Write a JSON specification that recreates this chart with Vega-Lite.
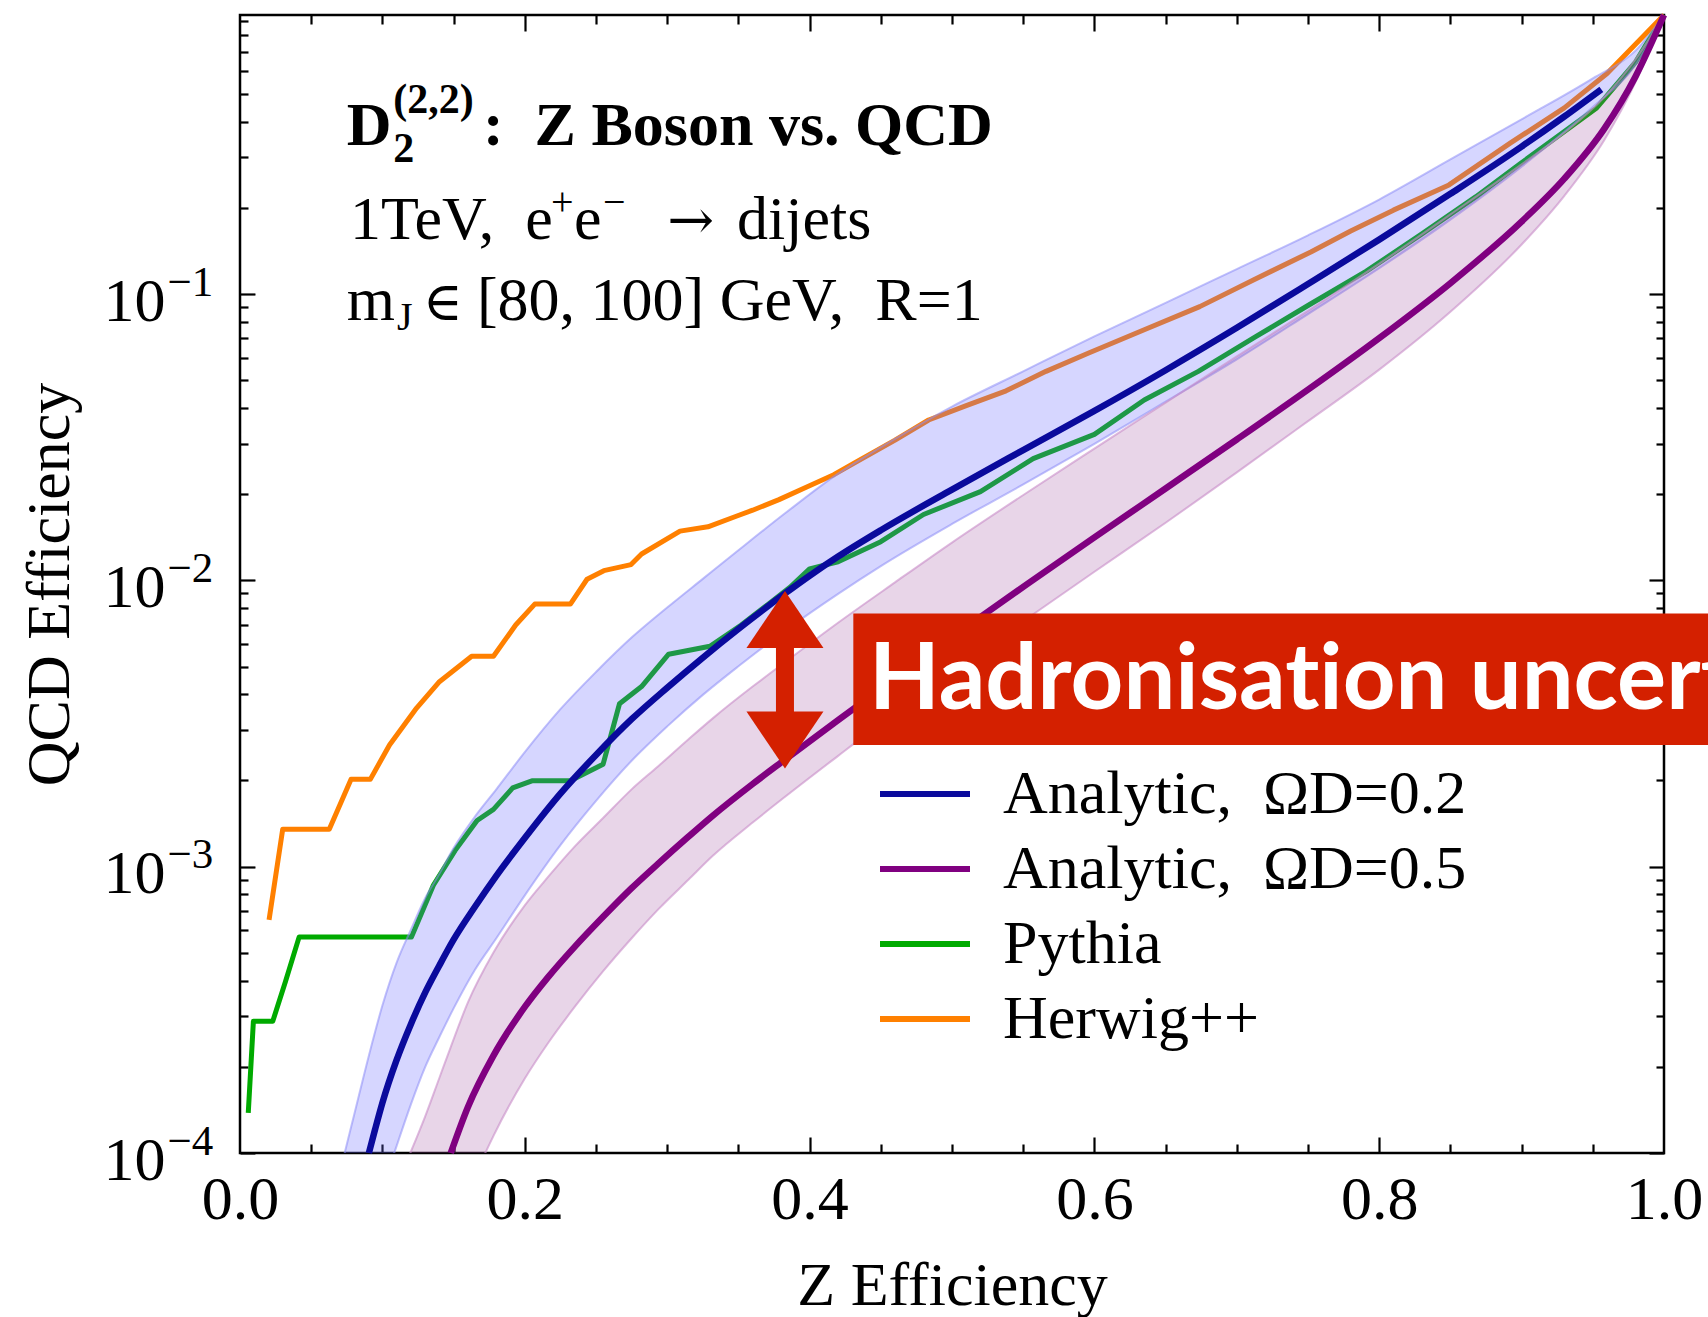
{
  "$schema": "https://vega.github.io/schema/vega-lite/v6.json",
  "width": 1424,
  "height": 1138,
  "autosize": "none",
  "padding": {"left": 240, "top": 15, "right": 44, "bottom": 164},
  "background": "white",
  "config": {
    "font": "Liberation Serif",
    "view": {"stroke": "black", "strokeWidth": 2.5},
    "axis": {
      "domain": false, "grid": false, "labelFlush": false, "labelOverlap": false,
      "tickColor": "black", "tickWidth": 2.2, "labelColor": "black",
      "labelFont": "Liberation Serif", "labelFontSize": 62,
      "titleFont": "Liberation Serif", "titleFontSize": 62, "titleFontWeight": "normal", "titleColor": "black"
    },
    "legend": {
      "labelFont": "Liberation Serif", "labelFontSize": 62, "labelColor": "black", "labelLimit": 1000,
      "symbolType": "M-1.5,0L1.5,0", "symbolSize": 3600, "symbolStrokeWidth": 6,
      "labelOffset": 45, "rowPadding": 11, "padding": 0
    }
  },
  "datasets": {
    "curves": [
      {"s": "Analytic,\u00a0 ΩD=0.2", "x": 0.0905, "y": 0.0001},
      {"s": "Analytic,\u00a0 ΩD=0.2", "x": 0.095, "y": 0.0001216},
      {"s": "Analytic,\u00a0 ΩD=0.2", "x": 0.10, "y": 0.0001496},
      {"s": "Analytic,\u00a0 ΩD=0.2", "x": 0.11, "y": 0.0002113},
      {"s": "Analytic,\u00a0 ΩD=0.2", "x": 0.12, "y": 0.0002818},
      {"s": "Analytic,\u00a0 ΩD=0.2", "x": 0.13, "y": 0.0003631},
      {"s": "Analytic,\u00a0 ΩD=0.2", "x": 0.14, "y": 0.0004519},
      {"s": "Analytic,\u00a0 ΩD=0.2", "x": 0.15, "y": 0.0005559},
      {"s": "Analytic,\u00a0 ΩD=0.2", "x": 0.165, "y": 0.0007244},
      {"s": "Analytic,\u00a0 ΩD=0.2", "x": 0.18, "y": 0.000929},
      {"s": "Analytic,\u00a0 ΩD=0.2", "x": 0.20, "y": 0.001259},
      {"s": "Analytic,\u00a0 ΩD=0.2", "x": 0.225, "y": 0.001799},
      {"s": "Analytic,\u00a0 ΩD=0.2", "x": 0.25, "y": 0.002455},
      {"s": "Analytic,\u00a0 ΩD=0.2", "x": 0.275, "y": 0.003273},
      {"s": "Analytic,\u00a0 ΩD=0.2", "x": 0.30, "y": 0.004217},
      {"s": "Analytic,\u00a0 ΩD=0.2", "x": 0.325, "y": 0.00537},
      {"s": "Analytic,\u00a0 ΩD=0.2", "x": 0.35, "y": 0.006761},
      {"s": "Analytic,\u00a0 ΩD=0.2", "x": 0.383, "y": 0.009016},
      {"s": "Analytic,\u00a0 ΩD=0.2", "x": 0.40, "y": 0.010375},
      {"s": "Analytic,\u00a0 ΩD=0.2", "x": 0.42, "y": 0.012106},
      {"s": "Analytic,\u00a0 ΩD=0.2", "x": 0.45, "y": 0.014962},
      {"s": "Analytic,\u00a0 ΩD=0.2", "x": 0.50, "y": 0.020749},
      {"s": "Analytic,\u00a0 ΩD=0.2", "x": 0.55, "y": 0.02851},
      {"s": "Analytic,\u00a0 ΩD=0.2", "x": 0.60, "y": 0.03908},
      {"s": "Analytic,\u00a0 ΩD=0.2", "x": 0.65, "y": 0.0542},
      {"s": "Analytic,\u00a0 ΩD=0.2", "x": 0.70, "y": 0.07621},
      {"s": "Analytic,\u00a0 ΩD=0.2", "x": 0.75, "y": 0.10839},
      {"s": "Analytic,\u00a0 ΩD=0.2", "x": 0.80, "y": 0.15488},
      {"s": "Analytic,\u00a0 ΩD=0.2", "x": 0.85, "y": 0.22387},
      {"s": "Analytic,\u00a0 ΩD=0.2", "x": 0.90, "y": 0.32734},
      {"s": "Analytic,\u00a0 ΩD=0.2", "x": 0.93, "y": 0.41687},
      {"s": "Analytic,\u00a0 ΩD=0.2", "x": 0.956, "y": 0.5188},

      {"s": "Analytic,\u00a0 ΩD=0.5", "x": 0.148, "y": 0.0001},
      {"s": "Analytic,\u00a0 ΩD=0.5", "x": 0.16, "y": 0.0001445},
      {"s": "Analytic,\u00a0 ΩD=0.5", "x": 0.178, "y": 0.0002188},
      {"s": "Analytic,\u00a0 ΩD=0.5", "x": 0.20, "y": 0.0003236},
      {"s": "Analytic,\u00a0 ΩD=0.5", "x": 0.2165, "y": 0.0004121},
      {"s": "Analytic,\u00a0 ΩD=0.5", "x": 0.235, "y": 0.0005248},
      {"s": "Analytic,\u00a0 ΩD=0.5", "x": 0.255, "y": 0.0006683},
      {"s": "Analytic,\u00a0 ΩD=0.5", "x": 0.275, "y": 0.0008414},
      {"s": "Analytic,\u00a0 ΩD=0.5", "x": 0.2935, "y": 0.001023},
      {"s": "Analytic,\u00a0 ΩD=0.5", "x": 0.315, "y": 0.001274},
      {"s": "Analytic,\u00a0 ΩD=0.5", "x": 0.332, "y": 0.001507},
      {"s": "Analytic,\u00a0 ΩD=0.5", "x": 0.36, "y": 0.001945},
      {"s": "Analytic,\u00a0 ΩD=0.5", "x": 0.383, "y": 0.002371},
      {"s": "Analytic,\u00a0 ΩD=0.5", "x": 0.42, "y": 0.003251},
      {"s": "Analytic,\u00a0 ΩD=0.5", "x": 0.46, "y": 0.00455},
      {"s": "Analytic,\u00a0 ΩD=0.5", "x": 0.50, "y": 0.006339},
      {"s": "Analytic,\u00a0 ΩD=0.5", "x": 0.5525, "y": 0.009683},
      {"s": "Analytic,\u00a0 ΩD=0.5", "x": 0.60, "y": 0.014125},
      {"s": "Analytic,\u00a0 ΩD=0.5", "x": 0.65, "y": 0.02094},
      {"s": "Analytic,\u00a0 ΩD=0.5", "x": 0.70, "y": 0.03105},
      {"s": "Analytic,\u00a0 ΩD=0.5", "x": 0.75, "y": 0.04634},
      {"s": "Analytic,\u00a0 ΩD=0.5", "x": 0.80, "y": 0.07015},
      {"s": "Analytic,\u00a0 ΩD=0.5", "x": 0.85, "y": 0.10914},
      {"s": "Analytic,\u00a0 ΩD=0.5", "x": 0.90, "y": 0.17906},
      {"s": "Analytic,\u00a0 ΩD=0.5", "x": 0.93, "y": 0.25293},
      {"s": "Analytic,\u00a0 ΩD=0.5", "x": 0.958, "y": 0.37757},
      {"s": "Analytic,\u00a0 ΩD=0.5", "x": 0.98, "y": 0.57544},
      {"s": "Analytic,\u00a0 ΩD=0.5", "x": 1.0, "y": 0.943},

      {"s": "Pythia", "x": 0.0058, "y": 0.000138},
      {"s": "Pythia", "x": 0.0094, "y": 0.0002884},
      {"s": "Pythia", "x": 0.023, "y": 0.0002884},
      {"s": "Pythia", "x": 0.032, "y": 0.0003981},
      {"s": "Pythia", "x": 0.0415, "y": 0.0005675},
      {"s": "Pythia", "x": 0.1204, "y": 0.0005675},
      {"s": "Pythia", "x": 0.1358, "y": 0.000861},
      {"s": "Pythia", "x": 0.151, "y": 0.001138},
      {"s": "Pythia", "x": 0.1665, "y": 0.001449},
      {"s": "Pythia", "x": 0.178, "y": 0.001585},
      {"s": "Pythia", "x": 0.1915, "y": 0.001884},
      {"s": "Pythia", "x": 0.205, "y": 0.001995},
      {"s": "Pythia", "x": 0.232, "y": 0.001995},
      {"s": "Pythia", "x": 0.255, "y": 0.00228},
      {"s": "Pythia", "x": 0.2665, "y": 0.003707},
      {"s": "Pythia", "x": 0.282, "y": 0.004256},
      {"s": "Pythia", "x": 0.301, "y": 0.005521},
      {"s": "Pythia", "x": 0.33, "y": 0.005888},
      {"s": "Pythia", "x": 0.352, "y": 0.006982},
      {"s": "Pythia", "x": 0.371, "y": 0.00826},
      {"s": "Pythia", "x": 0.386, "y": 0.009441},
      {"s": "Pythia", "x": 0.40, "y": 0.010965},
      {"s": "Pythia", "x": 0.42, "y": 0.01161},
      {"s": "Pythia", "x": 0.45, "y": 0.01365},
      {"s": "Pythia", "x": 0.48, "y": 0.01698},
      {"s": "Pythia", "x": 0.52, "y": 0.02042},
      {"s": "Pythia", "x": 0.557, "y": 0.02661},
      {"s": "Pythia", "x": 0.60, "y": 0.03236},
      {"s": "Pythia", "x": 0.635, "y": 0.04266},
      {"s": "Pythia", "x": 0.673, "y": 0.0537},
      {"s": "Pythia", "x": 0.713, "y": 0.07079},
      {"s": "Pythia", "x": 0.75, "y": 0.0912},
      {"s": "Pythia", "x": 0.791, "y": 0.12023},
      {"s": "Pythia", "x": 0.83, "y": 0.16218},
      {"s": "Pythia", "x": 0.868, "y": 0.21878},
      {"s": "Pythia", "x": 0.899, "y": 0.2851},
      {"s": "Pythia", "x": 0.9527, "y": 0.44668},
      {"s": "Pythia", "x": 0.98, "y": 0.64565},
      {"s": "Pythia", "x": 1.0, "y": 0.943},

      {"s": "Herwig++", "x": 0.0204, "y": 0.0006516},
      {"s": "Herwig++", "x": 0.030, "y": 0.001352},
      {"s": "Herwig++", "x": 0.0627, "y": 0.001352},
      {"s": "Herwig++", "x": 0.078, "y": 0.002018},
      {"s": "Herwig++", "x": 0.0915, "y": 0.002018},
      {"s": "Herwig++", "x": 0.105, "y": 0.002661},
      {"s": "Herwig++", "x": 0.124, "y": 0.003581},
      {"s": "Herwig++", "x": 0.1396, "y": 0.004406},
      {"s": "Herwig++", "x": 0.1627, "y": 0.005433},
      {"s": "Herwig++", "x": 0.178, "y": 0.005433},
      {"s": "Herwig++", "x": 0.1936, "y": 0.006982},
      {"s": "Herwig++", "x": 0.207, "y": 0.00826},
      {"s": "Herwig++", "x": 0.232, "y": 0.00826},
      {"s": "Herwig++", "x": 0.2437, "y": 0.01009},
      {"s": "Herwig++", "x": 0.2555, "y": 0.01081},
      {"s": "Herwig++", "x": 0.2746, "y": 0.01135},
      {"s": "Herwig++", "x": 0.282, "y": 0.01236},
      {"s": "Herwig++", "x": 0.309, "y": 0.01486},
      {"s": "Herwig++", "x": 0.3286, "y": 0.01538},
      {"s": "Herwig++", "x": 0.348, "y": 0.01671},
      {"s": "Herwig++", "x": 0.36, "y": 0.01758},
      {"s": "Herwig++", "x": 0.3785, "y": 0.01914},
      {"s": "Herwig++", "x": 0.3976, "y": 0.02113},
      {"s": "Herwig++", "x": 0.417, "y": 0.02339},
      {"s": "Herwig++", "x": 0.4325, "y": 0.02588},
      {"s": "Herwig++", "x": 0.46, "y": 0.0309},
      {"s": "Herwig++", "x": 0.4836, "y": 0.03631},
      {"s": "Herwig++", "x": 0.51, "y": 0.04074},
      {"s": "Herwig++", "x": 0.538, "y": 0.04592},
      {"s": "Herwig++", "x": 0.566, "y": 0.0537},
      {"s": "Herwig++", "x": 0.596, "y": 0.06223},
      {"s": "Herwig++", "x": 0.635, "y": 0.07499},
      {"s": "Herwig++", "x": 0.674, "y": 0.09036},
      {"s": "Herwig++", "x": 0.712, "y": 0.1122},
      {"s": "Herwig++", "x": 0.752, "y": 0.14028},
      {"s": "Herwig++", "x": 0.78, "y": 0.16596},
      {"s": "Herwig++", "x": 0.81, "y": 0.19634},
      {"s": "Herwig++", "x": 0.849, "y": 0.24044},
      {"s": "Herwig++", "x": 0.892, "y": 0.33651},
      {"s": "Herwig++", "x": 0.93, "y": 0.44668},
      {"s": "Herwig++", "x": 0.96, "y": 0.58884},
      {"s": "Herwig++", "x": 1.0, "y": 0.943}
    ],
    "bands": [
      {"b": "0.2", "x": 0.0735, "hi": 0.0001, "lo": 0.0000229},
      {"b": "0.2", "x": 0.08, "hi": 0.0001349, "lo": 0.0000309},
      {"b": "0.2", "x": 0.0905, "hi": 0.0002188, "lo": 0.0000501},
      {"b": "0.2", "x": 0.10, "hi": 0.0003273, "lo": 0.000075},
      {"b": "0.2", "x": 0.11, "hi": 0.0004624, "lo": 0.0001059},
      {"b": "0.2", "x": 0.12, "hi": 0.0006026, "lo": 0.0001479},
      {"b": "0.2", "x": 0.13, "hi": 0.0007762, "lo": 0.0001995},
      {"b": "0.2", "x": 0.14, "hi": 0.0009441, "lo": 0.0002541},
      {"b": "0.2", "x": 0.15, "hi": 0.001161, "lo": 0.0003199},
      {"b": "0.2", "x": 0.165, "hi": 0.001496, "lo": 0.0004365},
      {"b": "0.2", "x": 0.18, "hi": 0.001862, "lo": 0.0005623},
      {"b": "0.2", "x": 0.20, "hi": 0.002512, "lo": 0.0007943},
      {"b": "0.2", "x": 0.225, "hi": 0.003548, "lo": 0.001189},
      {"b": "0.2", "x": 0.25, "hi": 0.004786, "lo": 0.001698},
      {"b": "0.2", "x": 0.275, "hi": 0.00631, "lo": 0.002344},
      {"b": "0.2", "x": 0.30, "hi": 0.008035, "lo": 0.00309},
      {"b": "0.2", "x": 0.325, "hi": 0.01012, "lo": 0.003981},
      {"b": "0.2", "x": 0.35, "hi": 0.01274, "lo": 0.005012},
      {"b": "0.2", "x": 0.383, "hi": 0.01718, "lo": 0.006683},
      {"b": "0.2", "x": 0.42, "hi": 0.0236, "lo": 0.008974},
      {"b": "0.2", "x": 0.45, "hi": 0.02917, "lo": 0.01122},
      {"b": "0.2", "x": 0.50, "hi": 0.04046, "lo": 0.01574},
      {"b": "0.2", "x": 0.55, "hi": 0.0537, "lo": 0.02163},
      {"b": "0.2", "x": 0.60, "hi": 0.07112, "lo": 0.02999},
      {"b": "0.2", "x": 0.65, "hi": 0.09311, "lo": 0.04207},
      {"b": "0.2", "x": 0.70, "hi": 0.12218, "lo": 0.05916},
      {"b": "0.2", "x": 0.75, "hi": 0.16032, "lo": 0.08511},
      {"b": "0.2", "x": 0.80, "hi": 0.2138, "lo": 0.12303},
      {"b": "0.2", "x": 0.85, "hi": 0.29512, "lo": 0.18197},
      {"b": "0.2", "x": 0.90, "hi": 0.40738, "lo": 0.27861},
      {"b": "0.2", "x": 0.95, "hi": 0.56624, "lo": 0.44978},
      {"b": "0.2", "x": 0.98, "hi": 0.70795, "lo": 0.63096},
      {"b": "0.2", "x": 1.0, "hi": 0.943, "lo": 0.943},

      {"b": "0.5", "x": 0.1196, "hi": 0.0001, "lo": 0.00002},
      {"b": "0.5", "x": 0.13, "hi": 0.000134, "lo": 0.00003},
      {"b": "0.5", "x": 0.14, "hi": 0.0001828, "lo": 0.00004},
      {"b": "0.5", "x": 0.148, "hi": 0.0002344, "lo": 0.0000501},
      {"b": "0.5", "x": 0.16, "hi": 0.000335, "lo": 0.00007244},
      {"b": "0.5", "x": 0.178, "hi": 0.0005012, "lo": 0.0001148},
      {"b": "0.5", "x": 0.20, "hi": 0.0007328, "lo": 0.000182},
      {"b": "0.5", "x": 0.2165, "hi": 0.0009226, "lo": 0.0002427},
      {"b": "0.5", "x": 0.235, "hi": 0.001175, "lo": 0.0003236},
      {"b": "0.5", "x": 0.255, "hi": 0.001479, "lo": 0.0004315},
      {"b": "0.5", "x": 0.275, "hi": 0.001862, "lo": 0.0005623},
      {"b": "0.5", "x": 0.2935, "hi": 0.002239, "lo": 0.0007079},
      {"b": "0.5", "x": 0.315, "hi": 0.002786, "lo": 0.0009016},
      {"b": "0.5", "x": 0.332, "hi": 0.003296, "lo": 0.001091},
      {"b": "0.5", "x": 0.36, "hi": 0.004256, "lo": 0.001426},
      {"b": "0.5", "x": 0.383, "hi": 0.005188, "lo": 0.001758},
      {"b": "0.5", "x": 0.42, "hi": 0.007112, "lo": 0.002438},
      {"b": "0.5", "x": 0.46, "hi": 0.00984, "lo": 0.003451},
      {"b": "0.5", "x": 0.50, "hi": 0.013552, "lo": 0.004808},
      {"b": "0.5", "x": 0.5525, "hi": 0.02023, "lo": 0.007345},
      {"b": "0.5", "x": 0.60, "hi": 0.02884, "lo": 0.010715},
      {"b": "0.5", "x": 0.65, "hi": 0.04178, "lo": 0.015888},
      {"b": "0.5", "x": 0.70, "hi": 0.06053, "lo": 0.02382},
      {"b": "0.5", "x": 0.75, "hi": 0.0873, "lo": 0.03597},
      {"b": "0.5", "x": 0.80, "hi": 0.12764, "lo": 0.05445},
      {"b": "0.5", "x": 0.85, "hi": 0.18967, "lo": 0.0867},
      {"b": "0.5", "x": 0.90, "hi": 0.28379, "lo": 0.14894},
      {"b": "0.5", "x": 0.93, "hi": 0.36559, "lo": 0.22029},
      {"b": "0.5", "x": 0.958, "hi": 0.48641, "lo": 0.34435},
      {"b": "0.5", "x": 0.98, "hi": 0.66069, "lo": 0.54954},
      {"b": "0.5", "x": 1.0, "hi": 0.943, "lo": 0.943}
    ]
  },
  "resolve": {"axis": {"x": "independent", "y": "independent"}},
  "layer": [
    {
      "data": {"name": "curves"},
      "transform": [{"filter": "datum.s === 'Pythia' || datum.s === 'Herwig++'"}],
      "mark": {"type": "line", "strokeWidth": 5, "strokeJoin": "round"},
      "encoding": {
        "x": {"field": "x", "type": "quantitative", "scale": {"domain": [0, 1], "nice": false, "zero": false},
          "axis": {"orient": "bottom", "values": [0, 0.2, 0.4, 0.6, 0.8, 1], "format": ".1f", "ticks": false,
            "labelBaseline": "alphabetic", "labelAlign": "center", "labelPadding": 65,
            "title": "Z Efficiency", "titleX": 712, "titleY": 151, "titleAlign": "center", "titleBaseline": "alphabetic", "titleAngle": 0}},
        "y": {"field": "y", "type": "quantitative", "scale": {"type": "log", "domain": [0.0001, 0.943], "nice": false},
          "axis": {"orient": "left", "values": [0.0001, 0.001, 0.01, 0.1], "labelExpr": "'10'", "ticks": false,
            "labelPadding": 75, "labelAlign": "right", "labelBaseline": "alphabetic", "labelOffset": 26,
            "title": "QCD Efficiency", "titleX": -172, "titleY": 569, "titleAngle": -90, "titleAlign": "center", "titleBaseline": "alphabetic"}},
        "color": {"field": "s", "type": "nominal",
          "scale": {"domain": ["Analytic,\u00a0 ΩD=0.2", "Analytic,\u00a0 ΩD=0.5", "Pythia", "Herwig++"], "range": ["#0a0a9c", "#800080", "#00aa00", "#ff8000"]},
          "legend": {"title": null, "orient": "none", "legendX": 652, "legendY": 746}}
      }
    },
    {
      "data": {"name": "bands"},
      "transform": [{"filter": "datum.b === '0.2'"}],
      "mark": {"type": "area", "clip": true, "interpolate": "monotone", "fill": "#6b6bff", "fillOpacity": 0.28, "stroke": "#8c8cf5", "strokeOpacity": 0.55, "strokeWidth": 2},
      "encoding": {
        "x": {"field": "x", "type": "quantitative", "scale": {"domain": [0, 1], "nice": false, "zero": false},
          "axis": {"orient": "bottom", "values": [0.2, 0.4, 0.6, 0.8], "labels": false, "tickSize": -16, "title": null}},
        "y": {"field": "hi", "type": "quantitative", "scale": {"type": "log", "domain": [0.0001, 0.943], "nice": false},
          "axis": {"orient": "left", "values": [0.0001, 0.001, 0.01, 0.1], "labelExpr": "'−' + round(-log(datum.value)/LN10)", "ticks": false,
            "labelPadding": 73, "labelAlign": "left", "labelBaseline": "alphabetic", "labelOffset": 1, "labelFontSize": 43, "title": null}},
        "y2": {"field": "lo"}
      }
    },
    {
      "data": {"name": "bands"},
      "transform": [{"filter": "datum.b === '0.5'"}],
      "mark": {"type": "area", "clip": true, "interpolate": "monotone", "fill": "#a050a0", "fillOpacity": 0.24, "stroke": "#c88cc8", "strokeOpacity": 0.6, "strokeWidth": 2},
      "encoding": {
        "x": {"field": "x", "type": "quantitative", "scale": {"domain": [0, 1], "nice": false, "zero": false},
          "axis": {"orient": "bottom", "values": [0.05, 0.1, 0.15, 0.25, 0.3, 0.35, 0.45, 0.5, 0.55, 0.65, 0.7, 0.75, 0.85, 0.9, 0.95], "labels": false, "tickSize": -9, "title": null}},
        "y": {"field": "hi", "type": "quantitative", "scale": {"type": "log", "domain": [0.0001, 0.943], "nice": false},
          "axis": {"orient": "left", "values": [0.0001, 0.001, 0.01, 0.1], "labels": false, "tickSize": -15, "title": null}},
        "y2": {"field": "lo"}
      }
    },
    {
      "data": {"name": "curves"},
      "transform": [{"filter": "indexof(datum.s, 'Analytic') === 0"}],
      "mark": {"type": "line", "strokeWidth": 6.5, "interpolate": "monotone", "strokeJoin": "round"},
      "encoding": {
        "x": {"field": "x", "type": "quantitative", "scale": {"domain": [0, 1], "nice": false, "zero": false},
          "axis": {"orient": "top", "values": [0.2, 0.4, 0.6, 0.8], "labels": false, "tickSize": -16, "title": null}},
        "y": {"field": "y", "type": "quantitative", "scale": {"type": "log", "domain": [0.0001, 0.943], "nice": false},
          "axis": {"orient": "left", "values": [0.0002, 0.0003, 0.0004, 0.0005, 0.0006, 0.0007, 0.0008, 0.0009, 0.002, 0.003, 0.004, 0.005, 0.006, 0.007, 0.008, 0.009, 0.02, 0.03, 0.04, 0.05, 0.06, 0.07, 0.08, 0.09, 0.2, 0.3, 0.4, 0.5, 0.6, 0.7, 0.8, 0.9], "labels": false, "tickSize": -8, "title": null}},
        "color": {"field": "s", "type": "nominal",
          "scale": {"domain": ["Analytic,\u00a0 ΩD=0.2", "Analytic,\u00a0 ΩD=0.5", "Pythia", "Herwig++"], "range": ["#0a0a9c", "#800080", "#00aa00", "#ff8000"]},
          "legend": {"title": null, "orient": "none", "legendX": 652, "legendY": 746}}
      }
    },
    {
      "data": {"values": [{}]},
      "mark": {"type": "rule", "color": "#d42000", "strokeWidth": 18},
      "encoding": {
        "x": {"datum": 0.3827, "type": "quantitative", "scale": {"domain": [0, 1], "nice": false, "zero": false},
          "axis": {"orient": "top", "values": [0.05, 0.1, 0.15, 0.25, 0.3, 0.35, 0.45, 0.5, 0.55, 0.65, 0.7, 0.75, 0.85, 0.9, 0.95], "labels": false, "tickSize": -9, "title": null}},
        "y": {"datum": 0.0073, "type": "quantitative", "scale": {"type": "log", "domain": [0.0001, 0.943], "nice": false},
          "axis": {"orient": "right", "values": [0.0001, 0.001, 0.01, 0.1], "labels": false, "tickSize": -15, "title": null}},
        "y2": {"datum": 0.00277}
      }
    },
    {
      "data": {"values": [{}]},
      "mark": {"type": "point", "shape": "M-1,0.74L0,-0.74L1,0.74Z", "size": 5929, "filled": true, "fill": "#d42000", "strokeWidth": 0, "opacity": 1},
      "encoding": {
        "x": {"datum": 0.3827, "type": "quantitative", "scale": {"domain": [0, 1], "nice": false, "zero": false}, "axis": null},
        "y": {"datum": 0.0073, "type": "quantitative", "scale": {"type": "log", "domain": [0.0001, 0.943], "nice": false},
          "axis": {"orient": "right", "values": [0.0002, 0.0003, 0.0004, 0.0005, 0.0006, 0.0007, 0.0008, 0.0009, 0.002, 0.003, 0.004, 0.005, 0.006, 0.007, 0.008, 0.009, 0.02, 0.03, 0.04, 0.05, 0.06, 0.07, 0.08, 0.09, 0.2, 0.3, 0.4, 0.5, 0.6, 0.7, 0.8, 0.9], "labels": false, "tickSize": -8, "title": null}}
      }
    },
    {
      "data": {"values": [{}]},
      "mark": {"type": "point", "shape": "M-1,-0.74L0,0.74L1,-0.74Z", "size": 5929, "filled": true, "fill": "#d42000", "strokeWidth": 0, "opacity": 1},
      "encoding": {
        "x": {"datum": 0.3827, "type": "quantitative", "scale": {"domain": [0, 1], "nice": false, "zero": false}, "axis": null},
        "y": {"datum": 0.00277, "type": "quantitative", "scale": {"type": "log", "domain": [0.0001, 0.943], "nice": false}, "axis": null}
      }
    },
    {
      "data": {"values": [{}]},
      "mark": {"type": "rect", "color": "#d42000"},
      "encoding": {
        "x": {"datum": 0.4307, "type": "quantitative", "scale": {"domain": [0, 1], "nice": false, "zero": false}, "axis": null},
        "x2": {"datum": 1.3},
        "y": {"datum": 0.007666, "type": "quantitative", "scale": {"type": "log", "domain": [0.0001, 0.943], "nice": false}, "axis": null},
        "y2": {"datum": 0.002659}
      }
    },
    {
      "data": {"values": [{}]},
      "mark": {"type": "text", "text": "Hadronisat\u200cion uncertainty", "font": "Lato", "fontWeight": "bold", "fontSize": 92, "color": "white", "align": "left", "baseline": "alphabetic"},
      "encoding": {
        "x": {"datum": 0.4417, "type": "quantitative", "scale": {"domain": [0, 1], "nice": false, "zero": false}, "axis": null},
        "y": {"datum": 0.003545, "type": "quantitative", "scale": {"type": "log", "domain": [0.0001, 0.943], "nice": false}, "axis": null}
      }
    },
    {
      "data": {"values": [{}]},
      "mark": {"type": "text", "text": "D", "font": "Liberation Serif", "fontWeight": "bold", "fontSize": 62, "color": "black", "align": "left", "baseline": "alphabetic"},
      "encoding": {
        "x": {"datum": 0.0749, "type": "quantitative", "scale": {"domain": [0, 1], "nice": false, "zero": false}, "axis": null},
        "y": {"datum": 0.3315, "type": "quantitative", "scale": {"type": "log", "domain": [0.0001, 0.943], "nice": false}, "axis": null}
      }
    },
    {
      "data": {"values": [{}]},
      "mark": {"type": "text", "text": "(2,2)", "font": "Liberation Serif", "fontWeight": "bold", "fontSize": 42, "color": "black", "align": "left", "baseline": "alphabetic"},
      "encoding": {
        "x": {"datum": 0.1076, "type": "quantitative", "scale": {"domain": [0, 1], "nice": false, "zero": false}, "axis": null},
        "y": {"datum": 0.4287, "type": "quantitative", "scale": {"type": "log", "domain": [0.0001, 0.943], "nice": false}, "axis": null}
      }
    },
    {
      "data": {"values": [{}]},
      "mark": {"type": "text", "text": "2", "font": "Liberation Serif", "fontWeight": "bold", "fontSize": 42, "color": "black", "align": "left", "baseline": "alphabetic"},
      "encoding": {
        "x": {"datum": 0.1076, "type": "quantitative", "scale": {"domain": [0, 1], "nice": false, "zero": false}, "axis": null},
        "y": {"datum": 0.2899, "type": "quantitative", "scale": {"type": "log", "domain": [0.0001, 0.943], "nice": false}, "axis": null}
      }
    },
    {
      "data": {"values": [{}]},
      "mark": {"type": "text", "text": ":\u00a0 Z Boson vs. QCD", "font": "Liberation Serif", "fontWeight": "bold", "fontSize": 62, "color": "black", "align": "left", "baseline": "alphabetic"},
      "encoding": {
        "x": {"datum": 0.1706, "type": "quantitative", "scale": {"domain": [0, 1], "nice": false, "zero": false}, "axis": null},
        "y": {"datum": 0.3315, "type": "quantitative", "scale": {"type": "log", "domain": [0.0001, 0.943], "nice": false}, "axis": null}
      }
    },
    {
      "data": {"values": [{}]},
      "mark": {"type": "text", "text": "1TeV,\u00a0 e", "font": "Liberation Serif", "fontSize": 62, "color": "black", "align": "left", "baseline": "alphabetic"},
      "encoding": {
        "x": {"datum": 0.0772, "type": "quantitative", "scale": {"domain": [0, 1], "nice": false, "zero": false}, "axis": null},
        "y": {"datum": 0.1556, "type": "quantitative", "scale": {"type": "log", "domain": [0.0001, 0.943], "nice": false}, "axis": null}
      }
    },
    {
      "data": {"values": [{}]},
      "mark": {"type": "text", "text": "+", "font": "Liberation Serif", "fontSize": 40, "color": "black", "align": "left", "baseline": "alphabetic"},
      "encoding": {
        "x": {"datum": 0.2184, "type": "quantitative", "scale": {"domain": [0, 1], "nice": false, "zero": false}, "axis": null},
        "y": {"datum": 0.1887, "type": "quantitative", "scale": {"type": "log", "domain": [0.0001, 0.943], "nice": false}, "axis": null}
      }
    },
    {
      "data": {"values": [{}]},
      "mark": {"type": "text", "text": "e", "font": "Liberation Serif", "fontSize": 62, "color": "black", "align": "left", "baseline": "alphabetic"},
      "encoding": {
        "x": {"datum": 0.2346, "type": "quantitative", "scale": {"domain": [0, 1], "nice": false, "zero": false}, "axis": null},
        "y": {"datum": 0.1556, "type": "quantitative", "scale": {"type": "log", "domain": [0.0001, 0.943], "nice": false}, "axis": null}
      }
    },
    {
      "data": {"values": [{}]},
      "mark": {"type": "text", "text": "−", "font": "Liberation Serif", "fontSize": 40, "color": "black", "align": "left", "baseline": "alphabetic"},
      "encoding": {
        "x": {"datum": 0.2549, "type": "quantitative", "scale": {"domain": [0, 1], "nice": false, "zero": false}, "axis": null},
        "y": {"datum": 0.1887, "type": "quantitative", "scale": {"type": "log", "domain": [0.0001, 0.943], "nice": false}, "axis": null}
      }
    },
    {
      "data": {"values": [{}]},
      "mark": {"type": "text", "text": "→", "font": "DejaVu Serif", "fontSize": 56, "color": "black", "align": "left", "baseline": "alphabetic"},
      "encoding": {
        "x": {"datum": 0.3, "type": "quantitative", "scale": {"domain": [0, 1], "nice": false, "zero": false}, "axis": null},
        "y": {"datum": 0.1556, "type": "quantitative", "scale": {"type": "log", "domain": [0.0001, 0.943], "nice": false}, "axis": null}
      }
    },
    {
      "data": {"values": [{}]},
      "mark": {"type": "text", "text": "dijets", "font": "Liberation Serif", "fontSize": 62, "color": "black", "align": "left", "baseline": "alphabetic"},
      "encoding": {
        "x": {"datum": 0.349, "type": "quantitative", "scale": {"domain": [0, 1], "nice": false, "zero": false}, "axis": null},
        "y": {"datum": 0.1556, "type": "quantitative", "scale": {"type": "log", "domain": [0.0001, 0.943], "nice": false}, "axis": null}
      }
    },
    {
      "data": {"values": [{}]},
      "mark": {"type": "text", "text": "m", "font": "Liberation Serif", "fontSize": 62, "color": "black", "align": "left", "baseline": "alphabetic"},
      "encoding": {
        "x": {"datum": 0.0749, "type": "quantitative", "scale": {"domain": [0, 1], "nice": false, "zero": false}, "axis": null},
        "y": {"datum": 0.0811, "type": "quantitative", "scale": {"type": "log", "domain": [0.0001, 0.943], "nice": false}, "axis": null}
      }
    },
    {
      "data": {"values": [{}]},
      "mark": {"type": "text", "text": "J", "font": "Liberation Serif", "fontSize": 40, "color": "black", "align": "left", "baseline": "alphabetic"},
      "encoding": {
        "x": {"datum": 0.1103, "type": "quantitative", "scale": {"domain": [0, 1], "nice": false, "zero": false}, "axis": null},
        "y": {"datum": 0.07483, "type": "quantitative", "scale": {"type": "log", "domain": [0.0001, 0.943], "nice": false}, "axis": null}
      }
    },
    {
      "data": {"values": [{}]},
      "mark": {"type": "text", "text": "∈", "font": "DejaVu Serif", "fontSize": 54, "color": "black", "align": "left", "baseline": "alphabetic"},
      "encoding": {
        "x": {"datum": 0.1285, "type": "quantitative", "scale": {"domain": [0, 1], "nice": false, "zero": false}, "axis": null},
        "y": {"datum": 0.0811, "type": "quantitative", "scale": {"type": "log", "domain": [0.0001, 0.943], "nice": false}, "axis": null}
      }
    },
    {
      "data": {"values": [{}]},
      "mark": {"type": "text", "text": "[80, 100] GeV,\u00a0 R=1", "font": "Liberation Serif", "fontSize": 62, "color": "black", "align": "left", "baseline": "alphabetic"},
      "encoding": {
        "x": {"datum": 0.1664, "type": "quantitative", "scale": {"domain": [0, 1], "nice": false, "zero": false}, "axis": null},
        "y": {"datum": 0.0811, "type": "quantitative", "scale": {"type": "log", "domain": [0.0001, 0.943], "nice": false}, "axis": null}
      }
    }
  ]
}
